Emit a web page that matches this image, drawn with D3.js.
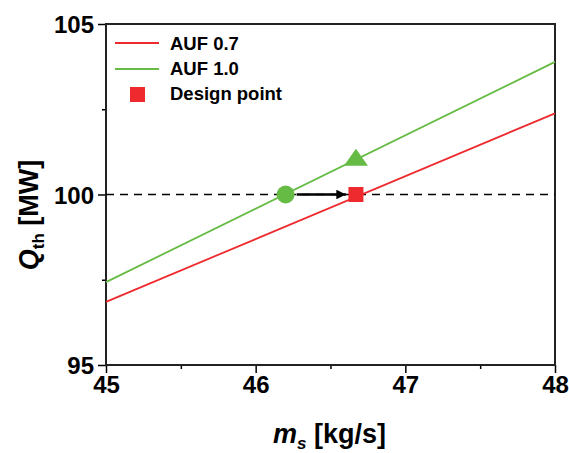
<!DOCTYPE html>
<html>
<head>
<meta charset="utf-8">
<script src="https://cdn.jsdelivr.net/npm/d3@7"></script>
<style>
  body { margin: 0; background: #fff; }
  text { font-family: "Liberation Sans", Arial, sans-serif; font-weight: bold; }
</style>
</head>
<body>
<div id="chart"></div>
<script>
// data
const xDomain = [45, 48];
const yDomain = [95, 105];
const xTicks = [45, 46, 47, 48];
const yTicks = [95, 100, 105];
const xMinorTicks = [45.5, 46.5, 47.5];
const yMinorTicks = [97.5, 102.5];
const auf07 = [{ x: 45, y: 96.85 }, { x: 48, y: 102.38 }];
const auf10 = [{ x: 45, y: 97.43 }, { x: 48, y: 103.89 }];
const designPoint = { x: 46.67, y: 100 };
const circlePoint = { x: 46.2, y: 100 };
const trianglePoint = { x: 46.67, y: 101.05 };
const refLevel = 100;

let margin = { top: 24, right: 14, bottom: 88, left: 106 },
    width = 569 - margin.left - margin.right,
    height = 453 - margin.top - margin.bottom;

let svg = d3.select("#chart")
    .append("svg")
    .attr("width", 569)
    .attr("height", 453)
    .append("g")
    .attr("transform", "translate(" + margin.left + "," + margin.top + ")");

let xScale = d3.scaleLinear().domain(xDomain).range([0, width]);
let yScale = d3.scaleLinear().domain(yDomain).range([height, 0]);

// minor ticks
let xAxisMinor = svg.append("g")
    .attr("transform", "translate(0," + height + ")")
    .call(d3.axisBottom(xScale).tickValues(xMinorTicks).tickSize(4).tickFormat(""));
let yAxisMinor = svg.append("g")
    .call(d3.axisLeft(yScale).tickValues(yMinorTicks).tickSize(4).tickFormat(""));

// major axes
let xAxis = svg.append("g")
    .attr("transform", "translate(0," + height + ")")
    .call(d3.axisBottom(xScale).tickValues(xTicks).tickSize(8).tickPadding(3).tickFormat(d3.format("d")));
let yAxis = svg.append("g")
    .call(d3.axisLeft(yScale).tickValues(yTicks).tickSize(8).tickPadding(4).tickFormat(d3.format("d")));

[xAxis, yAxis, xAxisMinor, yAxisMinor].forEach(a => {
    a.select(".domain").remove();
    a.selectAll("line").attr("stroke", "#000").attr("stroke-width", 1.5);
    a.selectAll("text").attr("font-size", "24px").attr("fill", "#000")
        .style("font-family", "'Liberation Sans', Arial, sans-serif").style("font-weight", "bold");
});
yAxis.selectAll("text").attr("dy", "0.36em");

// frame
svg.append("rect")
    .attr("width", width)
    .attr("height", height)
    .attr("fill", "none")
    .attr("stroke", "#222")
    .attr("stroke-width", 2);

// dashed reference line
svg.append("line")
    .attr("x1", 0).attr("x2", width)
    .attr("y1", yScale(refLevel)).attr("y2", yScale(refLevel))
    .attr("stroke", "#000")
    .attr("stroke-width", 1.5)
    .attr("stroke-dasharray", "8,6");

let lineGenerator = d3.line()
    .x(function (d) { return xScale(d.x); })
    .y(function (d) { return yScale(d.y); });

svg.append("path").datum(auf07)
    .attr("d", lineGenerator).attr("fill", "none")
    .attr("stroke", "#ee2a2e").attr("stroke-width", 1.8);
svg.append("path").datum(auf10)
    .attr("d", lineGenerator).attr("fill", "none")
    .attr("stroke", "#66bb44").attr("stroke-width", 1.8);

// arrow
svg.append("defs").append("marker")
    .attr("id", "arrow")
    .attr("viewBox", "0 0 10 10")
    .attr("refX", 10).attr("refY", 5)
    .attr("markerWidth", 5).attr("markerHeight", 4)
    .attr("markerUnits", "strokeWidth")
    .attr("orient", "auto")
    .append("path").attr("d", "M0,0 L10,5 L0,10 Z").attr("fill", "#000");

svg.append("line")
    .attr("x1", xScale(circlePoint.x) + 11)
    .attr("x2", xScale(designPoint.x) - 10)
    .attr("y1", yScale(refLevel)).attr("y2", yScale(refLevel))
    .attr("stroke", "#000").attr("stroke-width", 2.4)
    .attr("marker-end", "url(#arrow)");

// markers
svg.append("circle")
    .attr("cx", xScale(circlePoint.x)).attr("cy", yScale(circlePoint.y))
    .attr("r", 9).attr("fill", "#66bb44");
svg.append("path")
    .attr("d", "M0,-10 L12,7 L-12,7 Z")
    .attr("transform", "translate(" + xScale(trianglePoint.x) + "," + yScale(trianglePoint.y) + ")")
    .attr("fill", "#66bb44");
svg.append("rect")
    .attr("x", xScale(designPoint.x) - 7.5).attr("y", yScale(designPoint.y) - 7.5)
    .attr("width", 15).attr("height", 15)
    .attr("fill", "#ee2a2e");

// legend
let legend = svg.append("g").attr("transform", "translate(9,19)");
legend.append("line").attr("x1", 0).attr("x2", 44).attr("y1", 0).attr("y2", 0)
    .attr("stroke", "#ee2a2e").attr("stroke-width", 1.8);
legend.append("text").attr("x", 55).attr("y", 7).attr("font-size", "18.5px").text("AUF 0.7");
legend.append("line").attr("x1", 0).attr("x2", 44).attr("y1", 26).attr("y2", 26)
    .attr("stroke", "#66bb44").attr("stroke-width", 1.8);
legend.append("text").attr("x", 55).attr("y", 32).attr("font-size", "18.5px").text("AUF 1.0");
legend.append("rect").attr("x", 15).attr("y", 44).attr("width", 15).attr("height", 15)
    .attr("fill", "#ee2a2e");
legend.append("text").attr("x", 55).attr("y", 57).attr("font-size", "18.5px").text("Design point");

// axis titles
let xTitle = svg.append("text")
    .attr("text-anchor", "middle")
    .attr("x", width / 2 - 1)
    .attr("y", height + 78)
    .attr("font-size", "27px");
xTitle.append("tspan").attr("font-style", "italic").text("m");
xTitle.append("tspan").attr("font-style", "italic").attr("font-size", "17px").attr("dy", 6).text("s");
xTitle.append("tspan").attr("dy", -6).text(" [kg/s]");

let yTitle = svg.append("text")
    .attr("text-anchor", "middle")
    .attr("transform", "rotate(-90)")
    .attr("x", -191)
    .attr("y", -68)
    .attr("font-size", "27px");
yTitle.append("tspan").attr("font-style", "italic").text("Q");
yTitle.append("tspan").attr("font-size", "17px").attr("dy", 6).text("th");
yTitle.append("tspan").attr("dy", -6).text(" [MW]");
</script>
</body>
</html>
